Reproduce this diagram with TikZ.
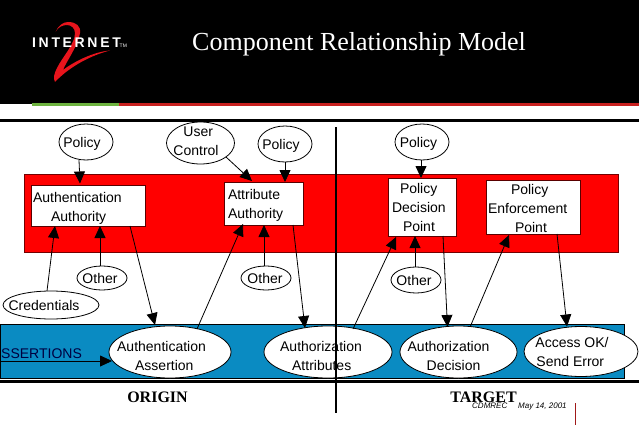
\documentclass[tikz,border=0pt]{standalone}
\usepackage{fontspec}
\setmainfont{Liberation Sans}
\newfontfamily\serifface{Liberation Serif}
\usetikzlibrary{shapes.geometric,arrows.meta}
\definecolor{bandblue}{HTML}{0A8BC2}
\definecolor{bandred}{HTML}{FF0000}
\definecolor{logored}{HTML}{E8141C}
\definecolor{rulered}{HTML}{C8201F}
\definecolor{rulegreen}{HTML}{6DB33F}
% text of an ellipse: offset dx, dy (px, y downward) from the centre; size does not affect the shape
\newcommand{\ovaltext}[3]{\raisebox{\dimexpr-#2pt-5.5pt\relax}[0pt][0pt]{\makebox[0pt]{\hspace*{\dimexpr2\dimexpr#1pt\relax\relax}\begin{tabular}[c]{@{}l@{}}#3\end{tabular}}}}
\tikzset{
  x=1pt,y=-1pt,
  oval/.style={ellipse,draw=black,line width=.8pt,fill=white,inner sep=0pt,font=\fontsize{14}{19}\selectfont},
  authbox/.style={rectangle,draw=black!65!red,line width=.9pt,fill=white,inner ysep=0pt,align=left,font=\fontsize{14}{19}\selectfont},
  arr/.style={line width=.8pt,-{Triangle[length=12pt,width=11pt]}},
  band/.style={line width=.7pt},
  bigtitle/.style={font=\serifface\fontsize{26}{30}\selectfont,text=white,inner sep=0pt},
  sidetitle/.style={font=\serifface\bfseries\fontsize{16}{18}\selectfont,inner sep=0pt},
  tinytext/.style={font=\itshape\fontsize{8}{9}\selectfont,inner sep=0pt},
}
\begin{document}
\begin{tikzpicture}
\useasboundingbox (0,0) rectangle (639,425);
\fill[white] (0,0) rectangle (639,425);
% header
\fill[black] (0,0) rectangle (639,104);
\fill[rulegreen] (32,103.5) rectangle (119,106);
\fill[rulered] (119,103.5) rectangle (639,106);
\fill[black] (0,119) rectangle (639,122);
% logo
\fill[logored] (55.7,31.7) .. controls (58,26) and (63,22) .. (68,22)
  .. controls (76,22) and (81,26) .. (80,33)
  .. controls (78,46) and (66,62) .. (63,70)
  .. controls (72,63) and (92,52) .. (110,50.5)
  .. controls (92,55) and (70,66) .. (55,82)
  .. controls (53,78) and (54,74) .. (57,68)
  .. controls (63,56) and (75,44) .. (75,33)
  .. controls (75,28) and (71,25) .. (67,25)
  .. controls (63,25) and (58,27) .. (55.7,31.7) -- cycle;
\node[anchor=west,text=white,inner sep=0pt,font=\fontsize{14}{16}\bfseries\addfontfeature{LetterSpace=19}\selectfont] (logotext) at (32,43) {INTERNET};
\node[anchor=west,text=white,inner sep=0pt,font=\fontsize{5}{6}\selectfont] (logotm) at (119.5,46) {TM};
\node[bigtitle,anchor=base west] (title) at (192,51) {Component Relationship Model};
% bands
\draw[band,draw=black!55!red,fill=bandred] (24.5,174) rectangle (618.5,252);
\draw[band,draw=black,fill=bandblue] (0.5,324) rectangle (624,378);
\fill[black] (0,380) rectangle (639,383);
% nodes
\node[oval,minimum width=54pt,minimum height=36pt] (polA) at (86,142) {\ovaltext{-4}{0}{Policy}};
\node[oval,minimum width=68pt,minimum height=42pt] (user) at (200.5,143) {\ovaltext{-4.5}{-3}{\hspace*{10pt}User\\Control}};
\node[oval,minimum width=54pt,minimum height=36pt] (polB) at (285,144) {\ovaltext{-4}{0}{Policy}};
\node[oval,minimum width=54pt,minimum height=36pt] (polC) at (422,142) {\ovaltext{-3.5}{0}{Policy}};
\node[authbox,inner xsep=2pt,text width=110pt,minimum height=41pt] (authn) at (88,205.5) {\rule{0pt}{15pt}Authentication\\\hspace*{18pt}Authority};
\node[authbox,inner xsep=4pt,text width=71pt,minimum height=43pt] (attr) at (263.5,203.5) {\rule{0pt}{13pt}Attribute\\Authority};
\node[authbox,inner xsep=4pt,text width=60pt,minimum height=58pt] (pdp) at (422,207) {\hspace*{8pt}Policy\\Decision\\\hspace*{11pt}Point};
\node[authbox,inner xsep=2pt,text width=90pt,minimum height=54pt] (pep) at (533,207) {\rule{0pt}{13pt}\hspace*{23pt}Policy\\Enforcement\\\hspace*{27pt}Point};
\node[oval,minimum width=50pt,minimum height=24pt] (othA) at (102,278) {\ovaltext{-2}{0}{Other}};
\node[oval,minimum width=50pt,minimum height=24pt] (othB) at (266,278) {\ovaltext{-1}{0}{Other}};
\node[oval,minimum width=50pt,minimum height=26pt] (othC) at (416,280) {\ovaltext{-2}{0}{Other}};
\node[oval,minimum width=96pt,minimum height=28pt] (cred) at (51,305) {\ovaltext{-7}{0}{Credentials}};
\node[oval,minimum width=122pt,minimum height=52pt] (assertn) at (170,352) {\ovaltext{-8.5}{3}{Authentication\\\hspace*{18pt}Assertion}};
\node[oval,minimum width=128pt,minimum height=52pt] (azattr) at (328,352) {\ovaltext{-7}{3}{Authorization\\\hspace*{12pt}Attributes}};
\node[oval,minimum width=117pt,minimum height=52pt] (azdec) at (458.5,352) {\ovaltext{-10}{3}{Authorization\\\hspace*{19pt}Decision}};
\node[oval,minimum width=114pt,minimum height=50pt] (access) at (581,351.5) {\ovaltext{-9}{0}{Access OK/\\\hspace*{1pt}Send Error}};
\node[anchor=base west,inner sep=0pt,font=\fontsize{14}{16}\selectfont,text=black!75!blue] (assertions) at (1,358) {SSERTIONS};
\coordinate (asrc) at (0,361);
% connectors
\draw[arr] ([shift={(-7,18)}]polA.center) -- ([shift={(-8,-22)}]authn.center);
\draw[arr] ([shift={(-4,-14)}]cred.center) -- ([shift={(-33,20.5)}]authn.center);
\draw[arr] ([shift={(-2,-12)}]othA.center) -- ([shift={(12,20.5)}]authn.center);
\draw[arr] ([shift={(42,20.5)}]authn.center) -- ([shift={(-15,-27)}]assertn.center);
\draw[arr] ([shift={(27,-23)}]assertn.center) -- ([shift={(-20.5,20.5)}]attr.center);
\draw[arr] ([shift={(-2,-12)}]othB.center) -- ([shift={(0.5,21.5)}]attr.center);
\draw[arr] ([shift={(29.5,21.5)}]attr.center) -- ([shift={(-23,-24)}]azattr.center);
\draw[arr] ([shift={(25.5,14)}]user.center) -- ([shift={(-11.5,-22.5)}]attr.center);
\draw[arr] ([shift={(0,18)}]polB.center) -- ([shift={(21.5,-21.5)}]attr.center);
\draw[arr] ([shift={(-1,18)}]polC.center) -- ([shift={(-1,-29)}]pdp.center);
\draw[arr] ([shift={(25,-23)}]azattr.center) -- ([shift={(-26,30)}]pdp.center);
\draw[arr] ([shift={(-1,-13)}]othC.center) -- ([shift={(-7,29)}]pdp.center);
\draw[arr] ([shift={(21,29)}]pdp.center) -- ([shift={(-11,-25)}]azdec.center);
\draw[arr] ([shift={(12,-26)}]azdec.center) -- ([shift={(-24,28)}]pep.center);
\draw[arr] ([shift={(24,27)}]pep.center) -- ([shift={(-14,-25)}]access.center);
\draw[arr] (asrc) -- ([shift={(-58,9)}]assertn.center);
% divider and captions
\draw[line width=2pt,black] (336,127) -- (336,413);
\node[sidetitle] (origin) at (157.5,397.5) {ORIGIN};
\node[sidetitle] (target) at (483.5,397.5) {TARGET};
\node[tinytext,anchor=base west] (cdmrec) at (472,408.5) {CDMREC};
\node[tinytext,anchor=base west] (date) at (518,408.5) {May 14, 2001};
\draw[line width=1pt,black!20!rulered] (575,403) -- (575,425);
\end{tikzpicture}
\end{document}
